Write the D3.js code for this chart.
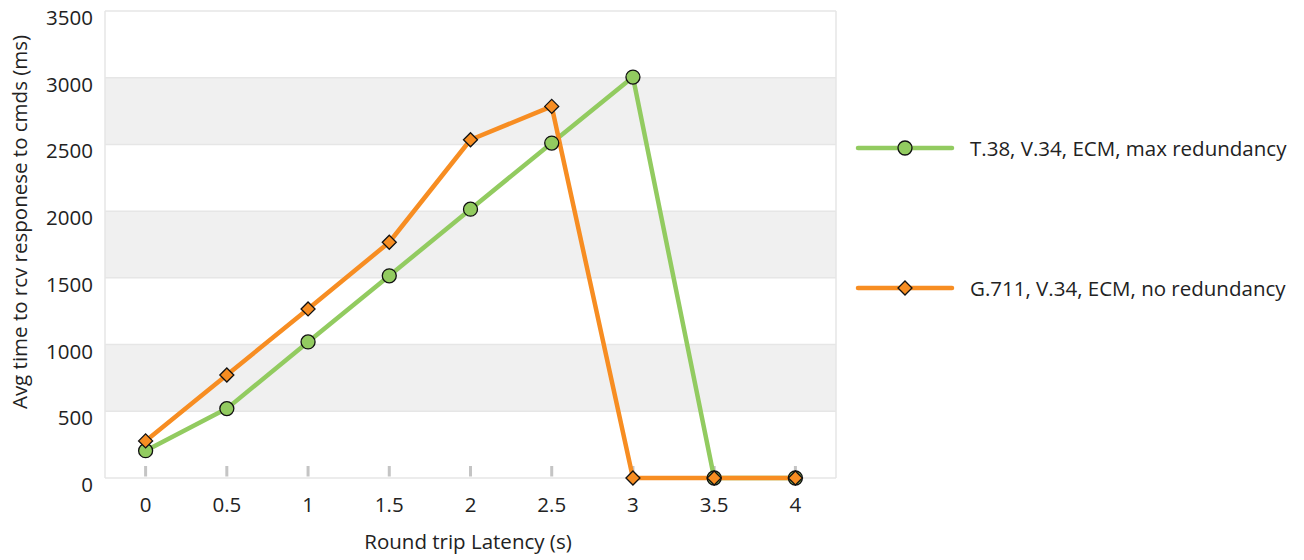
<!DOCTYPE html>
<html><head><meta charset="utf-8">
<script src="https://cdn.jsdelivr.net/npm/d3@7"></script>
<style>body{margin:0;background:#fff}</style>
</head><body>
<svg id="chart" width="1304" height="560"></svg>
<script>
const categories = ["0","0.5","1","1.5","2","2.5","3","3.5","4"];
const seriesNames = ["T.38, V.34, ECM, max redundancy","G.711, V.34, ECM, no redundancy"];
const greenValues = [205, 520, 1020, 1515, 2015, 2510, 3005, 0, 0];
const orangeValues = [278, 772, 1267, 1767, 2535, 2785, 0, 0, 0];
const yTicks = [0,500,1000,1500,2000,2500,3000,3500];

const font = "'Open Sans', sans-serif";
const fs = 20.5;
const green = "#92cb60", orange = "#f78d22";
const svg = d3.select("#chart");
const m = {l:105, r:836, t:11, b:478};
const x = d3.scaleBand().domain(categories).range([m.l, m.r]);
const y = d3.scaleLinear().domain([0,3500]).range([m.b, m.t]);
const cx = c => x(c) + x.bandwidth()/2;

const bands = [[500,1000],[1500,2000],[2500,3000]];
svg.selectAll("rect.band").data(bands).join("rect")
  .attr("x", m.l).attr("width", m.r-m.l)
  .attr("y", d=>y(d[1])).attr("height", d=>y(d[0])-y(d[1]))
  .attr("fill","#f0f0f0");
svg.selectAll("line.grid").data(yTicks).join("line")
  .attr("x1", m.l).attr("x2", m.r).attr("y1", d=>y(d)).attr("y2", d=>y(d))
  .attr("stroke","#e6e6e6").attr("stroke-width",1.5);
svg.append("line").attr("x1",m.l).attr("x2",m.l).attr("y1",m.t).attr("y2",m.b).attr("stroke","#e6e6e6").attr("stroke-width",1.5);
svg.append("line").attr("x1",m.r).attr("x2",m.r).attr("y1",m.t).attr("y2",m.b).attr("stroke","#e6e6e6").attr("stroke-width",1.5);

svg.selectAll("line.xt").data(categories).join("line")
  .attr("x1", d=>cx(d)).attr("x2", d=>cx(d)).attr("y1", m.b-12).attr("y2", m.b-1.5)
  .attr("stroke","#c4c4c4").attr("stroke-width",3);

svg.append("g").selectAll("text").data(categories).join("text")
  .attr("x", d=>cx(d)).attr("y", 512).attr("text-anchor","middle")
  .attr("font-family",font).attr("font-size",fs).attr("fill","#222").text(d=>d);
svg.append("g").selectAll("text").data(yTicks).join("text")
  .attr("x", 93).attr("y", d=>y(d)+14).attr("text-anchor","end")
  .attr("font-family",font).attr("font-size",fs).attr("fill","#222").text(d=>d);

svg.append("text").attr("x",468).attr("y",549).attr("text-anchor","middle")
  .attr("font-family",font).attr("font-size",fs).attr("fill","#222").text("Round trip Latency (s)");
svg.append("text").attr("transform","translate(27,222) rotate(-90)").attr("text-anchor","middle")
  .attr("font-family",font).attr("font-size",fs).attr("fill","#222").text("Avg time to rcv responese to cmds (ms)");

const series = [
  {name: seriesNames[0], values: greenValues, color: green, shape: "circle"},
  {name: seriesNames[1], values: orangeValues, color: orange, shape: "diamond"}
];
const line = d3.line().x((d,i)=>cx(categories[i])).y(d=>y(d));
series.forEach(s=>{
  svg.append("path").attr("d", line(s.values)).attr("fill","none")
    .attr("stroke", s.color).attr("stroke-width",4.5).attr("stroke-linejoin","round");
});
function marker(g, s, px, py){
  if (s.shape==="circle"){
    g.append("circle").attr("cx",px).attr("cy",py).attr("r",7)
      .attr("fill",s.color).attr("stroke","#111").attr("stroke-width",1.3);
  } else {
    const r=7;
    g.append("path").attr("d",`M${px},${py-r}L${px+r},${py}L${px},${py+r}L${px-r},${py}Z`)
      .attr("fill",s.color).attr("stroke","#111").attr("stroke-width",1.3);
  }
}
series.forEach(s=>{
  const g = svg.append("g");
  s.values.forEach((v,i)=>marker(g, s, cx(categories[i]), y(v)));
});

const ly = [148, 288];
series.forEach((s,i)=>{
  svg.append("line").attr("x1",858).attr("x2",952).attr("y1",ly[i]).attr("y2",ly[i])
    .attr("stroke",s.color).attr("stroke-width",4.5).attr("stroke-linecap","round");
  marker(svg, s, 905, ly[i]);
  svg.append("text").attr("x",970).attr("y",ly[i]+8).attr("font-family",font)
    .attr("font-size",fs).attr("fill","#222").text(s.name);
});
</script>
</body></html>
